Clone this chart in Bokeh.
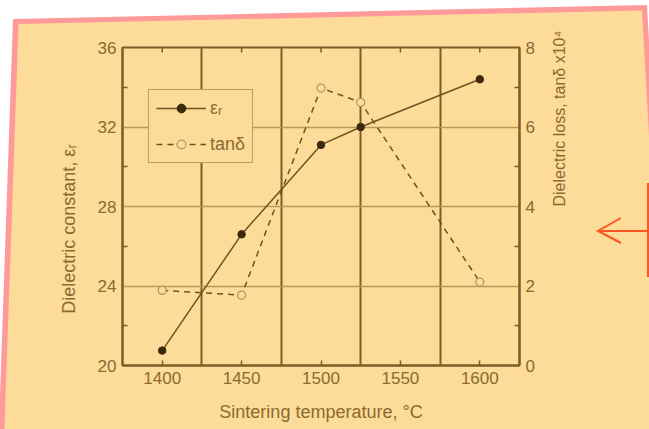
import math
from urllib.parse import quote

from bokeh.plotting import figure
from bokeh.models import (Range1d, LinearAxis, FixedTicker, Legend, LegendItem)
from bokeh.embed import file_html
from bokeh.resources import INLINE

# ---- data ----
temps = [1400, 1450, 1500, 1525, 1600]
eps_r = [20.75, 26.6, 31.1, 32.0, 34.4]
tan_d = [1.89, 1.77, 6.98, 6.62, 2.10]
x_ticks = [1400, 1450, 1500, 1550, 1600]
y_left_ticks = [20, 24, 28, 32, 36]
y_right_ticks = [0, 2, 4, 6, 8]

BG = "#FDDB99"
INK = "#8A6B30"
FRAME = "#7B5D26"
HGRID = "#B99A58"
FONT = "Liberation Sans"

W, H = 649, 429
FL, FT, FW, FH = 122, 47, 397, 318   # frame box in pixels
TICK_PX = 5
NB = "\u00a0"
XR = (1375, 1625)
YR = (20, 36)
TR = (0, 8)


def mids(t):
    return [(a + b) / 2 for a, b in zip(t[:-1], t[1:])]


p = figure(width=W, height=H,
           x_range=Range1d(*XR), y_range=Range1d(*YR),
           output_backend="svg", toolbar_location=None,
           min_border_left=FL, min_border_right=W - FL - FW,
           min_border_top=FT, min_border_bottom=H - FT - FH,
           background_fill_color=BG, border_fill_color=BG, border_fill_alpha=0,
           outline_line_color=FRAME, outline_line_width=2)
p.extra_y_ranges = {"tan": Range1d(*TR)}


def style_axis(ax):
    ax.axis_line_color = FRAME
    ax.axis_line_width = 2
    ax.major_tick_line_color = FRAME
    ax.major_tick_line_width = 1.5
    ax.minor_tick_line_color = FRAME
    ax.minor_tick_line_width = 1.5
    ax.major_tick_out = 0
    ax.minor_tick_out = 0
    ax.major_label_text_font = FONT
    ax.major_label_text_font_size = "17px"
    ax.major_label_text_color = INK
    ax.axis_label_text_font = FONT
    ax.axis_label_text_font_size = "18px"
    ax.axis_label_text_font_style = "normal"
    ax.axis_label_text_color = INK
    ax.major_label_standoff = 6


# bottom axis
xa = p.xaxis[0]
xa.ticker = FixedTicker(ticks=x_ticks, minor_ticks=[])
style_axis(xa)
xa.major_tick_in = TICK_PX
xa.axis_label = "Sintering temperature, \u00b0C"
xa.axis_label_standoff = 15

# left axis
ya = p.yaxis[0]
ya.ticker = FixedTicker(ticks=y_left_ticks, minor_ticks=mids(y_left_ticks))
style_axis(ya)
ya.major_tick_in = 0
ya.minor_tick_in = TICK_PX
ya.axis_label = "Dielectric constant, \u03b5\u1d63" + NB * 9
ya.axis_label_standoff = 16

# right axis, title reading upwards as in the reference
ra = LinearAxis(y_range_name="tan",
                ticker=FixedTicker(ticks=y_right_ticks, minor_ticks=mids(y_right_ticks)))
style_axis(ra)
ra.major_tick_in = 0
ra.minor_tick_in = TICK_PX
ra.axis_label = "Dielectric loss, tan\u03b4 x10\u2074"
ra.axis_label_text_font_size = "16px"
ra.axis_label_standoff = 22
ra.axis_label_orientation = math.pi / 2
p.add_layout(ra, "right")

# grids
p.xgrid.ticker = FixedTicker(ticks=mids(x_ticks))
p.xgrid.grid_line_color = FRAME
p.xgrid.grid_line_width = 2
p.ygrid.ticker = FixedTicker(ticks=y_left_ticks[1:-1])
p.ygrid.grid_line_color = HGRID
p.ygrid.grid_line_width = 1.5

# inward tick marks along the top edge (at the x tick values)
y_top = p.y_range.end
tick_len = (p.y_range.end - p.y_range.start) * TICK_PX / FH
p.segment(x0=x_ticks, x1=x_ticks, y0=[y_top] * len(x_ticks),
          y1=[y_top - tick_len] * len(x_ticks), line_color=FRAME, line_width=1.5)

# series
r1 = p.line(temps, eps_r, line_color="#6F5320", line_width=1.5)
s1 = p.scatter(temps, eps_r, size=7.5, fill_color="#3C2A0C", line_color="#3C2A0C")
r2 = p.line(temps, tan_d, y_range_name="tan", line_color="#6F5320",
            line_width=1.5, line_dash="6 5")
s2 = p.scatter(temps, tan_d, y_range_name="tan", size=8, fill_color=BG,
               line_color="#B09870", line_width=1.3)

legend = Legend(items=[LegendItem(label="\u03b5\u1d63", renderers=[r1, s1]),
                       LegendItem(label="tan\u03b4", renderers=[r2, s2])],
                location=(26, 202),
                background_fill_color=BG, background_fill_alpha=1,
                border_line_color=FRAME, border_line_width=1.5,
                glyph_width=50, glyph_height=22, label_height=22,
                label_standoff=4, padding=7, spacing=14, margin=0,
                label_text_font=FONT, label_text_font_size="18px",
                label_text_color=INK)
p.add_layout(legend)

# ---- photo backdrop behind the plot: white page, tilted pink card, orange arrow ----
backdrop = (
    '<svg xmlns="http://www.w3.org/2000/svg" width="649" height="429">'
    '<rect width="649" height="429" fill="#FFFFFF"/>'
    '<polygon points="13,19 647,5 671,440 -1.5,440" fill="#FF9A9A"/>'
    '<polygon points="18.5,24 642,10.5 666,440 4,440" fill="' + BG + '"/>'
    '<path d="M649,231 L598,231 M621,218 L598,231 L621,243 M648,183 L648,277" '
    'stroke="#FF5522" stroke-width="2" fill="none"/>'
    '</svg>'
)
p.styles = {
    "background-image": 'url("data:image/svg+xml,' + quote(backdrop, safe="") + '")',
    "background-repeat": "no-repeat",
    "background-size": "649px 429px",
}

open("out.html", "w").write(file_html(p, INLINE))
